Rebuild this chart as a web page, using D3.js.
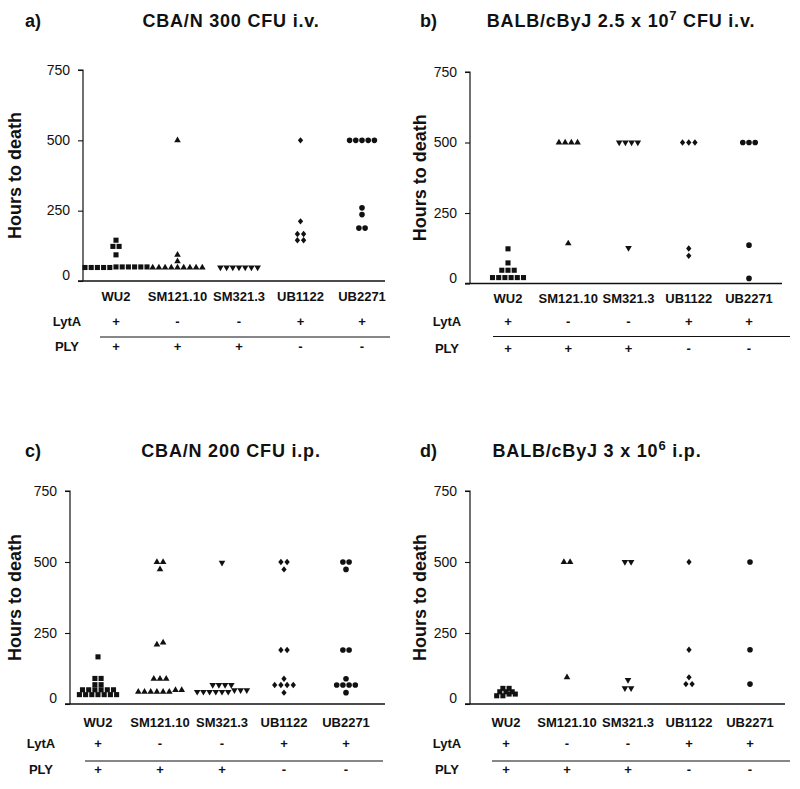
<!DOCTYPE html>
<html>
<head>
<meta charset="utf-8">
<script src="https://cdn.jsdelivr.net/npm/d3@7"></script>
<style>
  body { margin: 0; background: #fff; }
  svg { display: block; }
  text { font-family: "Liberation Sans", Arial, Helvetica, sans-serif; fill: #111; }
</style>
</head>
<body>
<svg id="chart" width="800" height="789"></svg>
<script>
// ---------- data ----------
const strains = ["WU2", "SM121.10", "SM321.3", "UB1122", "UB2271"];
const lytA = ["+", "-", "-", "+", "+"];
const ply  = ["+", "+", "+", "-", "-"];
const yTicks = [0, 250, 500, 750];
const panelLetters = ["a)", "b)", "c)", "d)"];
const titleMain = ["CBA/N 300 CFU i.v.", "BALB/cByJ 2.5 x 10", "CBA/N 200 CFU i.p.", "BALB/cByJ 3 x 10"];
const titleSup  = ["", "7", "", "6"];
const titleTail = ["", " CFU i.v.", "", " i.p."];
const yLabel = "Hours to death";

// hours to death, one array per strain (WU2, SM121.10, SM321.3, UB1122, UB2271)
const panelA = [
  [145, 123, 123, 93, 50, 48, 50, 48, 50, 48, 50, 48, 50, 48, 50],
  [500, 93, 70, 48, 48, 48, 48, 48, 48, 48, 48, 48],
  [48, 48, 48, 48, 48, 48, 48],
  [500, 212, 167, 167, 145, 145],
  [500, 500, 500, 500, 500, 260, 236, 188, 188]
];
const panelB = [
  [123, 73, 47, 47, 47, 21, 21, 21, 21, 21, 21],
  [500, 500, 500, 500, 142],
  [500, 500, 500, 500, 126],
  [500, 500, 500, 124, 98],
  [500, 500, 500, 136, 18]
];
const panelC = [
  [166, 90, 90, 68, 68, 50, 50, 50, 50, 50, 50, 33, 33, 33, 33, 33, 33, 33],
  [500, 500, 474, 216, 209, 89, 89, 89, 49, 49, 43, 43, 43, 43, 43, 43],
  [498, 67, 67, 67, 67, 49, 49, 49, 43, 43, 43, 43, 43, 43],
  [500, 500, 474, 190, 190, 89, 67, 67, 67, 67, 40],
  [500, 500, 474, 190, 190, 89, 67, 67, 67, 67, 40]
];
const panelD = [
  [55, 55, 43, 43, 43, 35, 35, 29, 29],
  [500, 500, 94],
  [500, 500, 85, 56, 56],
  [500, 191, 94, 70, 70],
  [500, 191, 70]
];
const panelData = [panelA, panelB, panelC, panelD];

// ---------- layout ----------
const layouts = [
  { axisX: 83,  y0: 281,   y750: 70,  xr: [116, 362], axEnd: 385, lineX: [100, 390], rowLabX: 67,  letterX: 25,  titleX: 231, titleY: 27,  yLabX: 15,  gap: [15, 40, 56, 65] },
  { axisX: 470, y0: 283.5, y750: 72,  xr: [508, 749], axEnd: 782, lineX: [493, 790], rowLabX: 447, letterX: 420, titleX: 621, titleY: 27,  yLabX: 420, gap: [15, 38, 53, 65] },
  { axisX: 70,  y0: 704,   y750: 491, xr: [98, 346],  axEnd: 385, lineX: [85, 383],  rowLabX: 41,  letterX: 25,  titleX: 231, titleY: 457, yLabX: 15,  gap: [18, 39, 57, 65] },
  { axisX: 470, y0: 704,   y750: 491, xr: [506, 750], axEnd: 785, lineX: [492, 790], rowLabX: 447, letterX: 420, titleX: 597, titleY: 457, yLabX: 420, gap: [18, 39, 57, 65] }
];

const svg = d3.select("#chart");
const ink = "#111";

// marker generators per strain: square, triangle up, triangle down, diamond, circle
const symbolTypes = [d3.symbolSquare, d3.symbolTriangle, d3.symbolTriangle, d3.symbolSquare, d3.symbolCircle];
const symbolSizes = [26, 19, 19, 14, 25];
const symbolRot = [0, 0, 180, 45, 0];
const symbolScaleY = [1, 1, 1, 1.2, 1];

const spacing = 6.2, tol = 8;

// arrange values of one strain into horizontal rows (dot plot)
function arrange(values) {
  const sorted = values.slice().sort((a, b) => a - b);
  const rows = [];
  sorted.forEach(v => {
    const last = rows[rows.length - 1];
    if (last && v - last[0] < tol) last.push(v); else rows.push([v]);
  });
  const out = [];
  rows.forEach(r => r.forEach((v, i) => out.push({ v, off: (i - (r.length - 1) / 2) * spacing })));
  return out;
}

layouts.forEach((L, pi) => {
  const g = svg.append("g");
  const y = d3.scaleLinear().domain([0, 750]).range([L.y0, L.y750]);
  const x = d3.scalePoint().domain(strains).range(L.xr);

  // y axis
  const yAx = g.append("g").attr("transform", `translate(${L.axisX},0)`)
    .call(d3.axisLeft(y).tickValues(yTicks).tickSize(5).tickPadding(8).tickFormat(d3.format("d")));
  yAx.select(".domain").attr("stroke", ink).attr("stroke-width", 1.2).attr("d", `M-5,${L.y750}H0V${L.y0}`);
  yAx.selectAll(".tick line").attr("stroke", ink).attr("stroke-width", 1.1);
  yAx.selectAll(".tick text").attr("font-size", 14).attr("fill", ink)
    .attr("font-family", "Liberation Sans, Arial, sans-serif")
    .attr("dy", d => d === 0 ? "-0.1em" : "0.3em");

  // x axis line
  g.append("line").attr("x1", L.axisX - 5).attr("x2", L.axEnd).attr("y1", L.y0).attr("y2", L.y0)
    .attr("stroke", ink).attr("stroke-width", 1.3);

  // category labels
  g.selectAll("text.cat").data(strains).join("text").attr("class", "cat")
    .attr("x", d => x(d)).attr("y", L.y0 + L.gap[0]).attr("dy", "0.35em")
    .attr("text-anchor", "middle").attr("font-weight", "bold").attr("font-size", 13).text(d => d);

  // LytA / PLY rows
  g.append("text").attr("x", L.rowLabX).attr("y", L.y0 + L.gap[1]).attr("dy", "0.35em")
    .attr("text-anchor", "middle").attr("font-weight", "bold").attr("font-size", 13).text("LytA");
  g.selectAll("text.lyt").data(lytA).join("text").attr("class", "lyt")
    .attr("x", (d, i) => x(strains[i])).attr("y", L.y0 + L.gap[1]).attr("dy", "0.35em")
    .attr("text-anchor", "middle").attr("font-weight", "bold").attr("font-size", 13).text(d => d);
  g.append("line").attr("x1", L.lineX[0]).attr("x2", L.lineX[1])
    .attr("y1", L.y0 + L.gap[2]).attr("y2", L.y0 + L.gap[2]).attr("stroke", ink).attr("stroke-width", 1.1);
  g.append("text").attr("x", L.rowLabX).attr("y", L.y0 + L.gap[3]).attr("dy", "0.35em")
    .attr("text-anchor", "middle").attr("font-weight", "bold").attr("font-size", 13).text("PLY");
  g.selectAll("text.ply").data(ply).join("text").attr("class", "ply")
    .attr("x", (d, i) => x(strains[i])).attr("y", L.y0 + L.gap[3]).attr("dy", "0.35em")
    .attr("text-anchor", "middle").attr("font-weight", "bold").attr("font-size", 13).text(d => d);

  // y label
  g.append("text").attr("transform", `translate(${L.yLabX},${(L.y0 + L.y750) / 2}) rotate(-90)`)
    .attr("dy", "0.35em").attr("text-anchor", "middle").attr("font-weight", "bold").attr("font-size", 18)
    .text(yLabel);

  // titles
  g.append("text").attr("x", L.letterX).attr("y", L.titleY).attr("font-weight", "bold").attr("font-size", 18)
    .text(panelLetters[pi]);
  const t = g.append("text").attr("x", L.titleX).attr("y", L.titleY).attr("text-anchor", "middle")
    .attr("font-weight", "bold").attr("font-size", 18).attr("letter-spacing", 0.8);
  t.append("tspan").text(titleMain[pi]);
  if (titleSup[pi]) {
    t.append("tspan").attr("font-size", 13).attr("dy", -7).text(titleSup[pi]);
    t.append("tspan").attr("dy", 7).text(titleTail[pi]);
  }

  // points
  panelData[pi].forEach((vals, si) => {
    const sym = d3.symbol().type(symbolTypes[si]).size(symbolSizes[si]);
    g.append("g").selectAll("path").data(arrange(vals)).join("path")
      .attr("d", sym)
      .attr("transform", d => `translate(${x(strains[si]) + d.off},${y(d.v)}) scale(1,${symbolScaleY[si]}) rotate(${symbolRot[si]})`)
      .attr("fill", ink);
  });
});
</script>
</body>
</html>
